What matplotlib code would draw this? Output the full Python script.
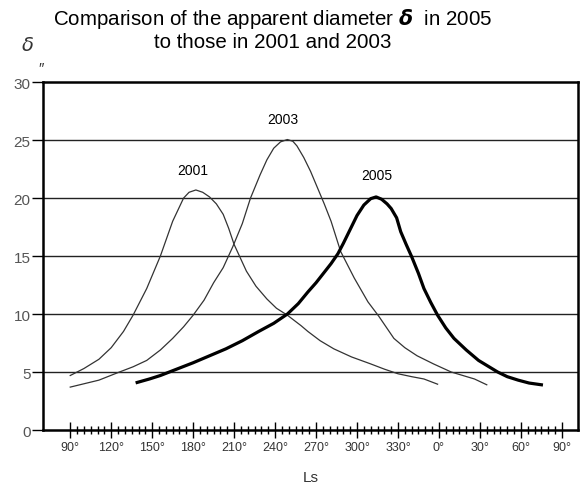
import matplotlib
matplotlib.use("Agg")
import matplotlib.pyplot as plt
from matplotlib.ticker import FixedLocator, FixedFormatter

plt.rcParams['font.family'] = ['Liberation Sans', 'DejaVu Sans']

# solar longitude Ls (continued past 360) and apparent diameter (arcsec)
ls_2001 = [90, 100, 111, 120, 129, 136, 146, 156, 165, 173, 177, 182, 187, 192, 197, 202,
           206, 210, 219, 226, 234, 241, 249, 259, 264, 273, 283, 296, 310, 320, 330, 340,
           349, 359]
d_2001 = [4.7, 5.3, 6.1, 7.1, 8.5, 9.9, 12.2, 15.0, 18.0, 20.0, 20.5, 20.7, 20.5, 20.1, 19.5, 18.6,
          17.4, 16.0, 13.7, 12.4, 11.3, 10.5, 9.9, 9.0, 8.5, 7.7, 7.0, 6.3, 5.7, 5.25, 4.85, 4.6,
          4.4, 3.95]

ls_2003 = [90, 111, 126, 136, 146, 156, 165, 173, 180, 188, 195, 202, 209, 216, 222, 229,
           234, 239, 244, 249, 253, 256, 261, 266, 271, 276, 281, 288, 298, 308, 316, 327,
           335, 344, 356, 369, 386, 395]
d_2003 = [3.7, 4.3, 5.0, 5.45, 6.0, 6.9, 7.9, 8.9, 9.9, 11.2, 12.7, 14.0, 15.8, 17.8, 20.0, 22.0,
          23.3, 24.3, 24.85, 25.05, 24.9, 24.5, 23.5, 22.3, 20.9, 19.5, 18.0, 15.4, 13.1, 11.05, 9.8, 7.9,
          7.1, 6.4, 5.7, 5.0, 4.4, 3.9]

ls_2005 = [139, 148, 156, 168, 180, 192, 204, 216, 228, 239, 249, 257, 264, 270, 276, 281,
           286, 290, 295, 300, 305, 310, 314, 318, 322, 325, 329, 332, 336, 340, 345, 349,
           354, 359, 365, 371, 380, 389, 396, 403, 410, 418, 426, 435]
d_2005 = [4.1, 4.4, 4.7, 5.25, 5.8, 6.4, 7.0, 7.7, 8.5, 9.2, 10.0, 10.9, 11.9, 12.7, 13.6, 14.35,
          15.2, 16.1, 17.3, 18.5, 19.4, 19.95, 20.1, 19.9, 19.5, 19.1, 18.3, 17.1, 16.0, 14.95, 13.5, 12.2,
          11.0, 9.9, 8.8, 7.9, 6.9, 6.0, 5.5, 5.0, 4.6, 4.3, 4.05, 3.9]

major_ticks = list(range(90, 451, 30))
major_labels = ['90°', '120°', '150°', '180°', '210°', '240°', '270°', '300°', '330°',
                '0°', '30°', '60°', '90°']
minor_ticks = list(range(90, 451, 5))
y_ticks = [0, 5, 10, 15, 20, 25, 30]

fig = plt.figure(figsize=(5.8, 4.89), dpi=100)
ax = fig.add_axes([0.074, 0.1186, 0.923, 0.7114])

for y in y_ticks[1:-1]:
    ax.axhline(y, color='#222222', lw=1.0, zorder=1)

ax.plot(ls_2001, d_2001, color='#333333', lw=0.9, zorder=3)
ax.plot(ls_2003, d_2003, color='#333333', lw=0.9, zorder=3)
ax.plot(ls_2005, d_2005, color='black', lw=2.3, zorder=4)

ax.text(180, 22.4, '2001', ha='center', va='center', fontsize=10)
ax.text(246, 26.8, '2003', ha='center', va='center', fontsize=10)
ax.text(314.5, 22.0, '2005', ha='center', va='center', fontsize=10)

ax.set_xlim(70, 462)
ax.set_ylim(0, 30)

ax.xaxis.set_major_locator(FixedLocator(major_ticks))
ax.xaxis.set_major_formatter(FixedFormatter(major_labels))
ax.xaxis.set_minor_locator(FixedLocator(minor_ticks))
ax.set_yticks(y_ticks)

ax.tick_params(axis='x', which='major', direction='inout', length=12, width=1.0,
               labelsize=9, labelcolor='#333333', pad=2)
ax.tick_params(axis='x', which='minor', direction='inout', length=6, width=1.0)
ax.tick_params(axis='y', direction='out', length=8, width=1.0,
               labelsize=11, labelcolor='#555555', pad=1)

for s in ax.spines.values():
    s.set_linewidth(1.8)
    s.set_color('black')

ax.set_xlabel('Ls', fontsize=11, color='#333333', labelpad=12)

fig.text(0.47, 0.962, 'Comparison of the apparent diameter $\\boldsymbol{\\delta}$  in 2005',
         ha='center', va='center', fontsize=14.8)
fig.text(0.47, 0.913, 'to those in 2001 and 2003', ha='center', va='center', fontsize=14.8)
fig.text(0.047, 0.905, '$\\delta$', ha='center', va='center', fontsize=14, color='#333333')
fig.text(0.07, 0.858, '″', ha='center', va='center', fontsize=11, color='#333333')

fig.savefig('out.png', dpi=100)
